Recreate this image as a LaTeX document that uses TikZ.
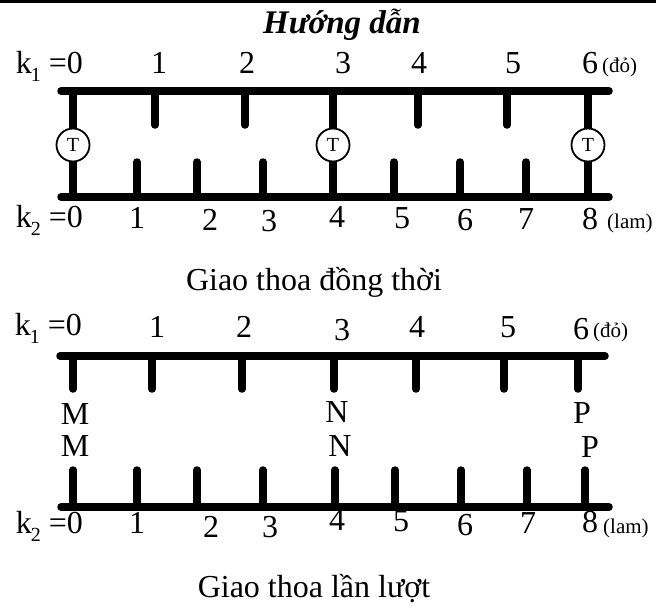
\documentclass[tikz,border=0pt]{standalone}
\usepackage{fontspec}
\setmainfont{Liberation Serif}
\newcommand{\ksub}[1]{k\kern-1pt\raisebox{-0.25em}{\fontsize{20}{20}\selectfont #1}}
\begin{document}
\begin{tikzpicture}[x=1pt,y=-1pt,
  bar/.style={line width=7.5pt, line cap=round},
  big/.style={font=\fontsize{32}{38}\selectfont, inner sep=0pt, anchor=base},
  small/.style={font=\fontsize{21}{25}\selectfont, inner sep=0pt, anchor=base west},
  tcirc/.style={circle, draw, line width=1.8pt, fill=white, minimum size=33pt, inner sep=0pt, font=\fontsize{20}{20}\selectfont}]
\useasboundingbox (0,0) rectangle (656,608);
% top rule
\draw[line width=2.7pt] (0,1.35) -- (656,1.35);
% title
\node[big, font=\fontsize{33}{38}\selectfont\bfseries\itshape] (title) at (342,33) {Hướng dẫn};

% ---------- Diagram 1 ----------
\draw[bar] (61,91) -- (609,91);
\draw[bar] (61,197) -- (609,197);
\foreach \x in {155,245,418,507} \draw[bar] (\x,91) -- (\x,125);
\foreach \x in {137,197,263,394,460,526} \draw[bar] (\x,162) -- (\x,197);
\foreach \x/\n in {73/a,333/b,588/c} {
  \draw[bar] (\x,91) -- (\x,197);
  \node[tcirc] (t\n) at (\x,145) {T};
}
% labels top row
\node[big, anchor=base east] (k1a) at (83,73) {\ksub{1} =0};
\node[big] (a1) at (159,73) {1};
\node[big] (a2) at (247,73) {2};
\node[big] (a3) at (343,73) {3};
\node[big] (a4) at (419,73) {4};
\node[big] (a5) at (513,73) {5};
\node[big] (a6) at (590,73) {6};
\node[small] (ado) at (602,72) {(đỏ)};
% labels bottom row
\node[big, anchor=base east] (k2a) at (83,227) {\ksub{2} =0};
\node[big] (b1) at (137,228) {1};
\node[big] (b2) at (210,230) {2};
\node[big] (b3) at (269,231) {3};
\node[big] (b4) at (337,227) {4};
\node[big] (b5) at (402,228) {5};
\node[big] (b6) at (465,230) {6};
\node[big] (b7) at (526,229) {7};
\node[big] (b8) at (590,229) {8};
\node[small] (blam) at (607,228) {(lam)};
\node[big] (cap1) at (314,290) {Giao thoa đồng thời};

% ---------- Diagram 2 ----------
\draw[bar] (60,356) -- (605,356);
\draw[bar] (61,507) -- (609,507);
\foreach \x in {73,152,242,334,416,504,578} \draw[bar] (\x,356) -- (\x,389);
\foreach \x in {73,137,197,263,335,395,461,527,585} \draw[bar] (\x,470) -- (\x,507);
\node[big, anchor=base east] (k1b) at (82,335) {\ksub{1} =0};
\node[big] (c1) at (157,337) {1};
\node[big] (c2) at (244,337) {2};
\node[big] (c3) at (342,340) {3};
\node[big] (c4) at (417,337) {4};
\node[big] (c5) at (508,337) {5};
\node[big] (c6) at (581,339) {6};
\node[small] (cdo) at (593,337) {(đỏ)};
\node[big] (m1) at (75,424) {M};
\node[big] (m2) at (75,456) {M};
\node[big] (n1) at (337,422) {N};
\node[big] (n2) at (340,456) {N};
\node[big] (p1) at (582,423) {P};
\node[big] (p2) at (590,457) {P};
\node[big, anchor=base east] (k2b) at (83,533) {\ksub{2} =0};
\node[big] (d1) at (137,533) {1};
\node[big] (d2) at (211,537) {2};
\node[big] (d3) at (270,537) {3};
\node[big] (d4) at (337,530) {4};
\node[big] (d5) at (401,531) {5};
\node[big] (d6) at (465,535) {6};
\node[big] (d7) at (528,533) {7};
\node[big] (d8) at (590,532) {8};
\node[small] (dlam) at (603,533) {(lam)};
\node[big] (cap2) at (314,597) {Giao thoa lần lượt};
\end{tikzpicture}
\end{document}
